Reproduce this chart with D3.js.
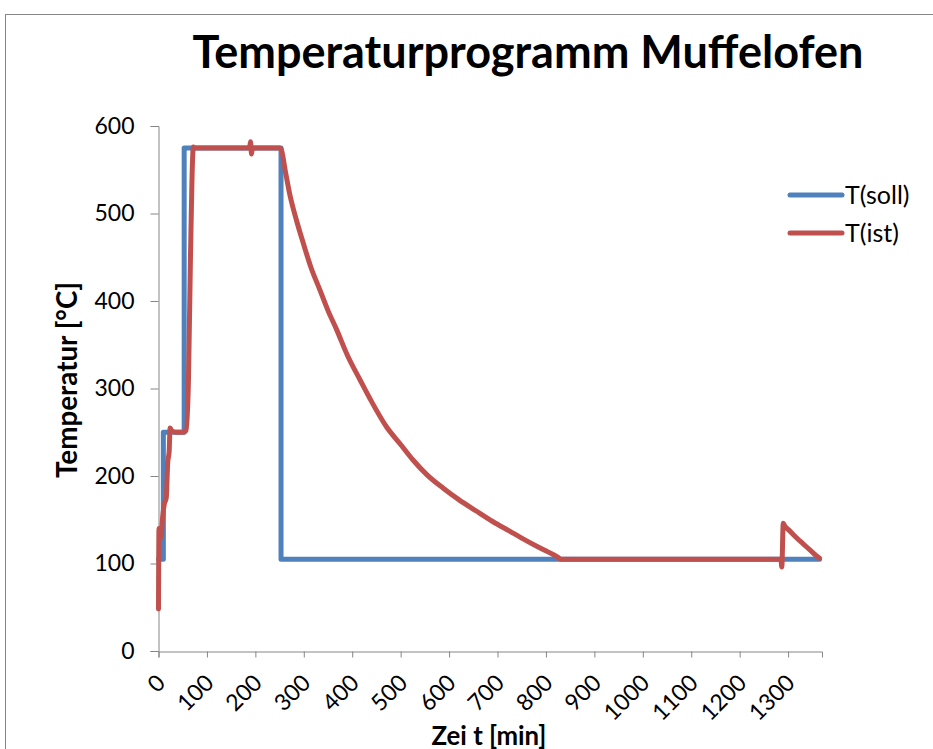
<!DOCTYPE html>
<html>
<head>
<meta charset="utf-8">
<script src="https://cdn.jsdelivr.net/npm/d3@7"></script>
<style>
  body { margin: 0; background: #fff; }
  svg text { font-family: Lato, "Open Sans", sans-serif; }
</style>
</head>
<body>
<svg id="chart" width="933" height="749"></svg>
<script>
// soll (set point) program
var soll_t = [0, 10, 10, 53, 53, 253, 253, 1365]
var soll_v = [105, 105, 250, 250, 575, 575, 105, 105]

// ist (measured) temperature
var ist_t = [0, 1, 3, 5, 8, 12, 16, 19, 22, 24, 27, 35, 50, 57, 62, 66, 72, 75,
  150, 188, 190, 192, 194, 250, 253, 262, 271, 285, 299, 315, 333, 350, 368, 390,
  416, 440, 471, 500, 526, 555, 588, 620, 656, 690, 725, 750, 780, 805, 825, 830,
  1285, 1287, 1290, 1293, 1300, 1309, 1320, 1330, 1340, 1350, 1358, 1365]
var ist_v = [48, 140, 135, 130, 150, 168, 175, 215, 228, 255, 252, 250, 250, 252, 313, 450, 576, 575,
  575, 575, 582, 568, 575, 575, 574, 548, 522, 492, 466, 438, 413, 389, 367, 338,
  310, 285, 256, 236, 218, 201, 186, 173, 160, 148, 137, 129, 120, 113, 107, 105,
  105, 96, 146, 143, 139, 134, 128, 123, 118, 113, 109, 106]

var x_ticks = [0, 100, 200, 300, 400, 500, 600, 700, 800, 900, 1000, 1100, 1200, 1300]
var y_ticks = [0, 100, 200, 300, 400, 500, 600]

var series = [
  { name: "T(soll)", color: "#4F81BD", pts: d3.zip(soll_t, soll_v), curve: d3.curveLinear },
  { name: "T(ist)", color: "#C0504D", pts: d3.zip(ist_t, ist_v), curve: d3.curveMonotoneX }
]

var svg = d3.select("#chart");
var axisColor = "#868686";
var fs = "23px";

// outer chart frame
svg.append("rect")
  .attr("x", 5.5).attr("y", 14.5)
  .attr("width", 1000).attr("height", 1000)
  .attr("fill", "none").attr("stroke", axisColor);

var x = d3.scaleLinear().domain([0, 1370]).range([158.5, 822]);
var y = d3.scaleLinear().domain([0, 600]).range([651, 126]);

// y axis
var gy = svg.append("g")
  .attr("transform", "translate(158.5,0)")
  .call(d3.axisLeft(y).tickValues(y_ticks).tickSize(8).tickPadding(16));
gy.selectAll("text").style("font-size", fs).attr("fill", "#000");

// x axis
var gx = svg.append("g")
  .attr("transform", "translate(0,651.5)")
  .call(d3.axisBottom(x).tickValues(x_ticks).tickSize(6).tickFormat(""));
gx.attr("font-family", null).attr("font-size", null);
gy.attr("font-family", null).attr("font-size", null);
gx.selectAll("g.tick").append("text")
  .attr("text-anchor", "end")
  .attr("transform", "translate(2,27) rotate(-45)")
  .attr("dy", "0.35em")
  .style("font-size", fs)
  .attr("fill", "#000")
  .text(function(d) { return d; });

svg.selectAll(".domain, .tick line").attr("stroke", axisColor);

// lines
svg.append("g").selectAll("path")
  .data(series)
  .enter().append("path")
  .attr("d", function(d) {
    return d3.line().curve(d.curve)
      .x(function(p) { return x(p[0]); })
      .y(function(p) { return y(p[1]); })(d.pts);
  })
  .attr("fill", "none")
  .attr("stroke", function(d) { return d.color; })
  .attr("stroke-width", 5)
  .attr("stroke-linejoin", "round")
  .attr("stroke-linecap", "round");

// legend
var lg = svg.append("g").selectAll("g")
  .data(series)
  .enter().append("g")
  .attr("transform", function(d, i) { return "translate(790," + (195 + i * 38) + ")"; });
lg.append("line")
  .attr("x1", 0).attr("x2", 52)
  .attr("stroke", function(d) { return d.color; })
  .attr("stroke-width", 5).attr("stroke-linecap", "round");
lg.append("text")
  .attr("x", 55).attr("dy", "0.35em")
  .style("font-size", "25px")
  .text(function(d) { return d.name; });

// helper: fit text to a width
function fit(sel, w) {
  var len = sel.node().getComputedTextLength();
  var f = parseFloat(sel.style("font-size"));
  sel.style("font-size", (f * w / len) + "px");
}

var title = svg.append("text")
  .attr("x", 528).attr("y", 68)
  .attr("text-anchor", "middle")
  .style("font-size", "36px").style("font-weight", "bold")
  .text("Temperaturprogramm Muffelofen");
fit(title, 671);

var xt = svg.append("text")
  .attr("x", 489).attr("y", 745)
  .attr("text-anchor", "middle")
  .style("font-size", "19px").style("font-weight", "bold")
  .text("Zei t [min]");
fit(xt, 115);

var yt = svg.append("text")
  .attr("transform", "translate(77,380) rotate(-90)")
  .attr("text-anchor", "middle")
  .style("font-size", "19px").style("font-weight", "bold")
  .text("Temperatur [°C]");
fit(yt, 196);
</script>
</body>
</html>
